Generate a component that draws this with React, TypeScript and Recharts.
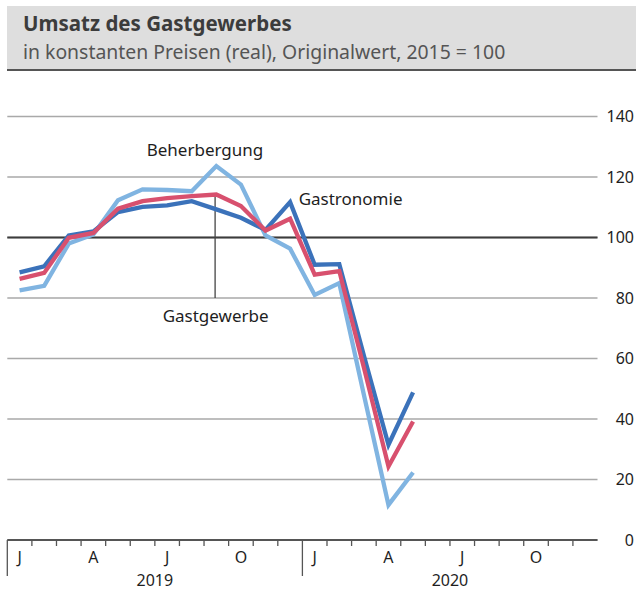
import React from 'react';
import { LineChart, Line, XAxis, YAxis, CartesianGrid, ReferenceLine, ReferenceDot } from 'recharts';

// Jan 2019 .. May 2020, index 2015 = 100
const gastronomie = [88.5, 90.5, 100.7, 102, 108.4, 110.1, 110.6, 112, 109.3, 106.5, 102.5, 111.7, 91, 91.2, 61, 31.5, 48.8];
const gastgewerbe = [86.3, 88.3, 99.9, 101.5, 109.5, 112, 113, 113.7, 114.2, 110.4, 102.3, 106.2, 87.7, 88.9, 57, 24.3, 39.2];
const beherbergung = [82.5, 84, 98, 101, 112.3, 115.9, 115.7, 115.3, 123.6, 117.5, 100.7, 96.3, 81, 84.9, 48, 11.6, 22.3];

const monthLabels = ['J', '', '', 'A', '', '', 'J', '', '', 'O', '', '', 'J', '', '', 'A', '', '', 'J', '', '', 'O', '', ''];
const years = [
  { label: '2019', start: 0 },
  { label: '2020', start: 12 },
];
const yTicks = [0, 20, 40, 60, 80, 100, 120, 140];

const data = gastronomie.map((v, i) => ({
  x: i + 0.5,
  gastronomie: v,
  gastgewerbe: gastgewerbe[i],
  beherbergung: beherbergung[i],
}));

// boundaries (integers) and month centres (halves)
const xTicks: number[] = [];
for (let i = 0; i < monthLabels.length; i++) {
  xTicks.push(i, i + 0.5);
}

const FONT = '"Noto Sans", Lato, sans-serif';
const TEXT = '#1e1e1e';

const XTick = (props: any) => {
  const { x, y, payload } = props;
  const v = payload.value as number;
  const isYearStart = years.some((yr) => yr.start === v);
  const year = years.find((yr) => yr.start + 6 === v);
  if (v % 1 === 0.5) {
    const lab = monthLabels[v - 0.5];
    if (!lab) return <g />;
    return (
      <text x={x} y={y + 23} textAnchor="middle" fontSize={16} fill={TEXT} fontFamily={FONT}>
        {lab}
      </text>
    );
  }
  return (
    <g>
      <line x1={x} x2={x} y1={y} y2={y + (isYearStart ? 36 : 6)} stroke="#555" strokeWidth={1.3} />
      {year && (
        <text x={x} y={y + 46} textAnchor="middle" fontSize={16} fill={TEXT} fontFamily={FONT}>
          {year.label}
        </text>
      )}
    </g>
  );
};

const YTick = (props: any) => {
  const { y, payload } = props;
  return (
    <text x={634} y={y} dy="0.36em" textAnchor="end" fontSize={16} fill={TEXT} fontFamily={FONT}>
      {payload.value}
    </text>
  );
};

const labelStyle = { fontSize: 17, fill: TEXT, fontFamily: FONT };

export default function App() {
  return (
    <div style={{ position: 'absolute', left: 0, top: 0, width: 638, height: 599, background: '#fff' }}>
      <div
        style={{
          position: 'absolute',
          left: 7,
          top: 6,
          width: 629,
          height: 63,
          background: '#dedede',
          borderBottom: '2px solid #555',
          fontFamily: FONT,
        }}
      >
        <div
          style={{ position: 'absolute', left: 16, top: 6, fontSize: 20.5, lineHeight: '22px', fontWeight: 700, color: '#3c3c3c' }}
        >
          Umsatz des Gastgewerbes
        </div>
        <div style={{ position: 'absolute', left: 16, top: 35, fontSize: 19.4, lineHeight: '22px', color: '#555' }}>
          in konstanten Preisen (real), Originalwert, 2015 = 100
        </div>
      </div>
      <LineChart
        width={638}
        height={599}
        data={data}
        margin={{ top: 116.5, right: 0, bottom: 0, left: 7.3 }}
        style={{ position: 'absolute', left: 0, top: 0 }}
      >
        <CartesianGrid vertical={false} stroke="#a9a9a9" strokeWidth={1.5} />
        <XAxis
          dataKey="x"
          type="number"
          domain={[0, 24]}
          ticks={xTicks}
          interval={0}
          height={59}
          tickSize={0}
          tickMargin={0}
          tickLine={false}
          axisLine={{ stroke: '#555', strokeWidth: 2 }}
          tick={<XTick />}
        />
        <YAxis
          orientation="right"
          domain={[0, 140]}
          ticks={yTicks}
          width={40.5}
          axisLine={false}
          tickLine={false}
          tick={<YTick />}
        />
        <ReferenceLine y={100} stroke="#3c3c3c" strokeWidth={2} />
        <ReferenceLine
          segment={[
            { x: 8.45, y: 80 },
            { x: 8.45, y: 113.4 },
          ]}
          stroke="#444"
          strokeWidth={1.3}
        />
        <Line dataKey="beherbergung" type="linear" stroke="#80b4e1" strokeWidth={4.3} dot={false} isAnimationActive={false} />
        <Line dataKey="gastronomie" type="linear" stroke="#3b72ba" strokeWidth={4.3} dot={false} isAnimationActive={false} />
        <Line dataKey="gastgewerbe" type="linear" stroke="#d8506e" strokeWidth={4.3} dot={false} isAnimationActive={false} />
        <ReferenceDot x={8.04} y={128.9} r={0} fill="none" stroke="none" label={{ value: 'Beherbergung', position: 'center', ...labelStyle }} />
        <ReferenceDot x={8.47} y={74.2} r={0} fill="none" stroke="none" label={{ value: 'Gastgewerbe', position: 'center', ...labelStyle }} />
        <ReferenceDot x={13.96} y={112.7} r={0} fill="none" stroke="none" label={{ value: 'Gastronomie', position: 'center', ...labelStyle }} />
      </LineChart>
    </div>
  );
}
